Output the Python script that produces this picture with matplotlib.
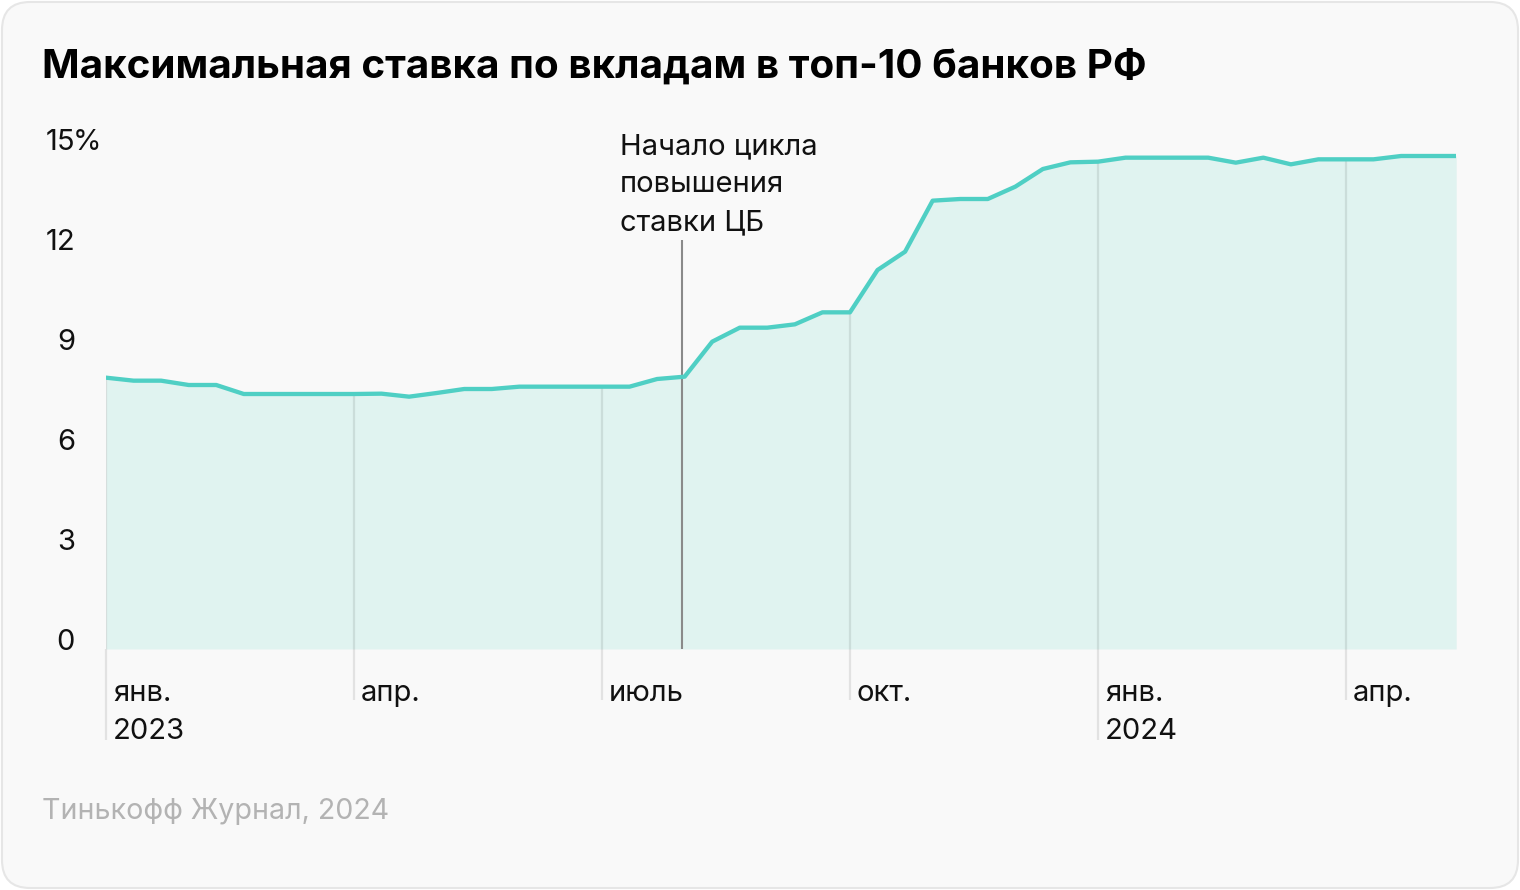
import numpy as np
import matplotlib
matplotlib.use('Agg')
import matplotlib.pyplot as plt
from matplotlib.patches import FancyBboxPatch
from matplotlib.transforms import IdentityTransform, blended_transform_factory, offset_copy

plt.rcParams['font.family'] = ['Inter', 'DejaVu Sans']

# ---- data (per dekad, Jan 2023 .. May 2024) ----
rates = [8.14, 8.05, 8.05, 7.92, 7.92, 7.65, 7.65, 7.65, 7.65, 7.65,
         7.66, 7.57, 7.68, 7.80, 7.80, 7.87, 7.87, 7.87, 7.87, 7.87,
         8.10, 8.17, 9.22, 9.64, 9.64, 9.74, 10.10, 10.10, 11.37, 11.92,
         13.45, 13.50, 13.50, 13.87, 14.40, 14.60, 14.62, 14.74, 14.74, 14.74,
         14.74, 14.59, 14.74, 14.54, 14.69, 14.69, 14.69, 14.79, 14.79, 14.79]
x_labels = ['янв.\n2023', 'апр.', 'июль', 'окт.', 'янв.\n2024', 'апр.']
x_label_pos = [0, 9, 18, 27, 36, 45]
y_ticks = [0, 3, 6, 9, 12, 15]
annot_pos = 20.9
annot_text = 'Начало цикла\nповышения\nставки ЦБ'
title = 'Максимальная ставка по вкладам в топ-10 банков РФ'
source = 'Тинькофф Журнал, 2024'

FS = 21
W, H = 1520, 890
fig = plt.figure(figsize=(W / 100, H / 100), dpi=100)
fig.patch.set_facecolor('white')
card = FancyBboxPatch((2, 2), W - 4, H - 4, boxstyle='round,pad=0,rounding_size=28',
                      transform=IdentityTransform(), facecolor='#f9f9f9',
                      edgecolor='#e6e6e6', linewidth=1.5, zorder=0)
fig.add_artist(card)

def fx(px):
    return px / W

def fy(py):
    return 1 - py / H

x0_px, x1_px = 106, 1456.2
y0_px, y15_px = 649, 149
ppu_y = (y0_px - y15_px) / 15.0
ppu_x = (x1_px - x0_px) / (len(rates) - 1)

ax = fig.add_axes([fx(x0_px), fy(y0_px), (x1_px - x0_px) / W, (y0_px - y15_px) / H])
ax.set_xlim(0, len(rates) - 1)
ax.set_ylim(0, 15)
ax.patch.set_alpha(0)
for s in ax.spines.values():
    s.set_visible(False)
ax.set_xticks([])
ax.set_yticks([])

x = np.arange(len(rates))
ax.fill_between(x, rates, 0, color='#e0f3f0', lw=0, zorder=1)

# vertical quarter lines
grid_col = (0, 0, 0, 0.09)
for p, lab in zip(x_label_pos, x_labels):
    ax.vlines(p, 0, rates[p], color=grid_col, lw=1.6, zorder=2)
    nlines = lab.count('\n') + 1
    bottom = -(51 if nlines == 1 else 91) / ppu_y
    ax.vlines(p, bottom, 0, color=grid_col, lw=1.6, zorder=2, clip_on=False)
    ax.text(p, 0, lab, transform=offset_copy(ax.transData, fig, x=7, y=-31, units='dots'),
            ha='left', va='top', fontsize=FS, color='#111111', linespacing=1.53)

# annotation line
ax.vlines(annot_pos, 0, (y0_px - 240) / ppu_y, color='#8a8a8a', lw=1.5, zorder=3, clip_on=False)
ax.text(annot_pos - (682 - 620) / ppu_x, (y0_px - 230) / ppu_y, annot_text, ha='left', va='baseline',
        fontsize=FS, color='#111111', linespacing=1.51, clip_on=False)

ax.plot(x, rates, color='#4fcfc4', lw=3.1, solid_capstyle='round', solid_joinstyle='round', zorder=4)

# y labels
blend = blended_transform_factory(ax.transAxes, ax.transData)
tr = offset_copy(blend, fig, x=-31, y=-1, units='dots')
tr_pct = offset_copy(blend, fig, x=-33, y=-1, units='dots')
for v in y_ticks:
    ax.text(0, v, str(v), transform=tr, ha='right', va='baseline', fontsize=FS, color='#111111')
ax.text(0, y_ticks[-1], '%', transform=tr_pct, ha='left', va='baseline', fontsize=FS, color='#111111')

fig.text(fx(42), fy(78), title, ha='left', va='baseline', fontsize=29.1, fontweight='bold', color='#000000')
fig.text(fx(42), fy(819), source, ha='left', va='baseline', fontsize=20.6, color='#b3b3b3')

fig.savefig('out.png', dpi=100, facecolor='white')
